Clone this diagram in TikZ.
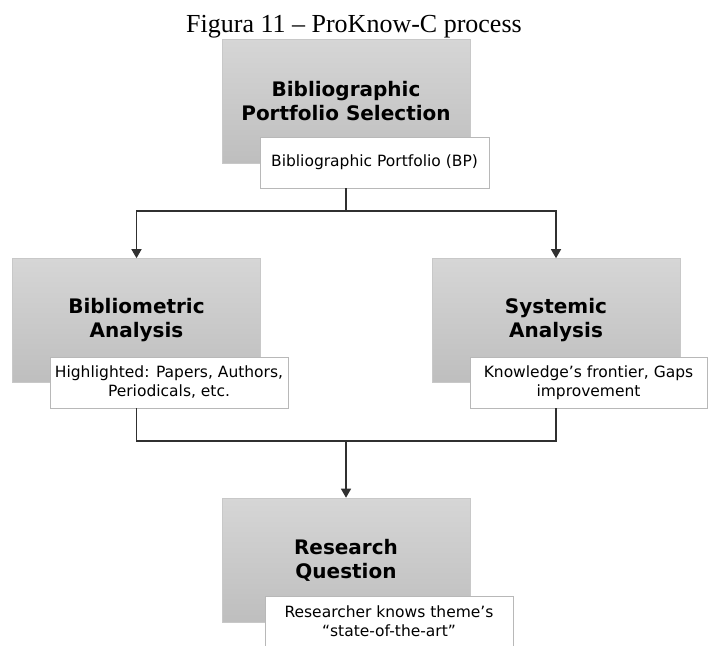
\documentclass[tikz,border=0pt]{standalone}
\usepackage{fontspec}
\setmainfont{Liberation Serif}
\newfontfamily\boxfont{DejaVu Sans}
\usetikzlibrary{arrows.meta}
\definecolor{stagetop}{HTML}{D6D6D6}
\definecolor{stagebot}{HTML}{BEBEBE}
\definecolor{stageedge}{HTML}{C8C8C8}
\definecolor{noteedge}{HTML}{B8B8B8}
\definecolor{flowline}{HTML}{303030}
\tikzset{
  stage/.style={rectangle, inner sep=0pt, minimum width=248pt, minimum height=124pt,
    top color=stagetop, bottom color=stagebot, draw=stageedge, line width=0.6pt,
    align=center, font=\boxfont\bfseries\fontsize{20}{24}\selectfont},
  note/.style={rectangle, inner sep=0pt, minimum height=51pt, fill=white,
    draw=noteedge, line width=0.8pt, align=center,
    font=\boxfont\fontsize{15.5}{19}\selectfont},
  flow/.style={draw=flowline, line width=1.3pt},
  flowarrow/.style={flow, -{Triangle[width=10pt,length=9pt]}},
}
\begin{document}
\begin{tikzpicture}[x=1pt,y=-1pt]
\useasboundingbox (0,0) rectangle (708,645);

% caption
\node[anchor=base, inner sep=0pt, font=\fontsize{26}{30}\selectfont] (title) at (354,32)
  {Figura 11 – ProKnow-C process};

% stage boxes
\node[stage] (gtop) at (346,101) {Bibliographic\\Portfolio Selection};
\node[stage] (gleft) at (136.5,320.5) {Bibliometric\\Analysis};
\node[stage] (gright) at (556,320.5) {Systemic\\Analysis};
\node[stage] (gbot) at (346,560) {Research\\Question};

% outcome notes
\node[note, minimum width=229pt] (wtop) at (374.5,162.5) {Bibliographic Portfolio (BP)};
\node[note, minimum width=238pt] (wleft) at (169,382.5) {Highlighted: Papers, Authors,\\Periodicals, etc.};
\node[note, minimum width=237pt] (wright) at (588.5,382.5) {Knowledge’s frontier, Gaps\\improvement};
\node[note, minimum width=248pt, minimum height=50pt] (wbot) at (389,621) {Researcher knows theme’s\\“state-of-the-art”};

% split after the portfolio selection
\coordinate (split) at (346,211);
\draw[flow] (gtop.center |- wtop.south) -- (split);
\draw[flowarrow] (split) -| (gleft.north);
\draw[flowarrow] (split) -| (gright.north);

% merge of both analyses
\coordinate (merge) at (346,441);
\draw[flow] (gleft.center |- wleft.south) |- (merge);
\draw[flow] (gright.center |- wright.south) |- (merge);
\draw[flowarrow] (merge) -- (gbot.north);
\end{tikzpicture}
\end{document}
